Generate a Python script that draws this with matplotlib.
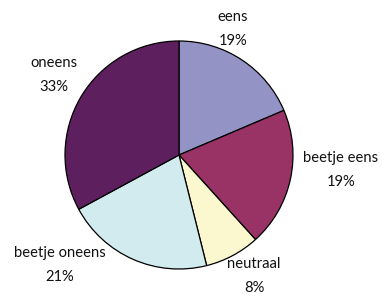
import matplotlib
matplotlib.use("Agg")
import matplotlib.pyplot as plt

categories = ["eens", "beetje eens", "neutraal", "beetje oneens", "oneens"]
values = [18.6, 19.7, 7.8, 21.0, 32.9]
pct_labels = ["19%", "19%", "8%", "21%", "33%"]
colors = ["#9393c6", "#993366", "#fbf8cf", "#d2ebee", "#5e1f5e"]

# label centres in pixel coordinates (x, y from top)
label_px = [(233, 29), (341, 170), (254, 276), (60, 265), (54, 75)]

W, H = 382, 294
cx, cy, R = 179, 155, 114

fig = plt.figure(figsize=(W / 100, H / 100), dpi=100)
ax = fig.add_axes([0, 0, 1, 1])
ax.pie(values, colors=colors, startangle=90, counterclock=False,
       radius=1, center=(0, 0),
       wedgeprops=dict(edgecolor="black", linewidth=0.9))
ax.set_xlim(-cx / R, (W - cx) / R)
ax.set_ylim(-(H - cy) / R, cy / R)
ax.set_aspect("equal")
ax.axis("off")

for cat, pl, (px, py) in zip(categories, pct_labels, label_px):
    ax.text((px - cx) / R, -(py - cy) / R, f"{cat}\n{pl}",
            ha="center", va="center", fontsize=10.6, linespacing=1.85,
            family="Lato", color="#111111")

fig.savefig("out.png", dpi=100)
